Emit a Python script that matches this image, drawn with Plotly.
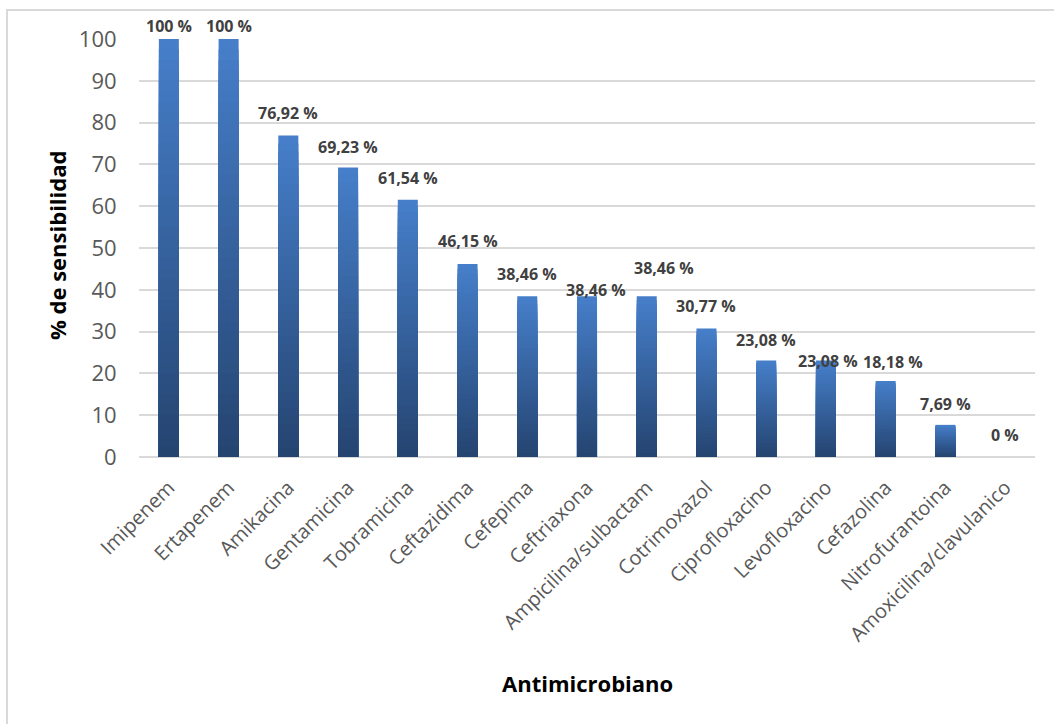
import plotly.graph_objects as go

# ---- data ----
categories = ["Imipenem", "Ertapenem", "Amikacina", "Gentamicina", "Tobramicina",
              "Ceftazidima", "Cefepima", "Ceftriaxona", "Ampicilina/sulbactam",
              "Cotrimoxazol", "Ciprofloxacino", "Levofloxacino", "Cefazolina",
              "Nitrofurantoina", "Amoxicilina/clavulanico"]
values = [100, 100, 76.92, 69.23, 61.54, 46.15, 38.46, 38.46, 38.46,
          30.77, 23.08, 23.08, 18.18, 7.69, 0]
y_ticks = [0, 10, 20, 30, 40, 50, 60, 70, 80, 90, 100]
x_title = "Antimicrobiano"
y_title = "% de sensibilidad"

# ---- label placement (pixel offsets, mimic the original layout) ----
label_dx = [0, 0, 0, 0, 0, 0, 0, 9, 17, 0, 0, 2, 7, 0, 0]
label_dy = [13, 13, 22, 21, 22, 23, 22, 6, 28, 22, 21, 0, 19, 21, 22]

W, H = 1054, 724
L, R, T, B = 139, 19, 39, 267
pw, ph = W - L - R, H - T - B

# gradient colours (bottom -> top)
c_bot = (37, 68, 112)
c_top = (70, 127, 202)
N = 40

fig = go.Figure()
# overlaid bars from full height (lightest) down to the shortest (darkest):
# each covers from 0, so no seams between gradient steps
for k in range(N):
    frac = (N - k) / N
    f = (N - k - 0.5) / N
    col = tuple(round(c_bot[i] + (c_top[i] - c_bot[i]) * f) for i in range(3))
    fig.add_trace(go.Bar(
        x=categories,
        y=[v * frac for v in values],
        marker=dict(color="rgb(%d,%d,%d)" % col, line=dict(width=0)),
        width=0.335,
        showlegend=False,
        hoverinfo="skip",
    ))

def fmt(v):
    s = ("%.2f" % v).rstrip("0").rstrip(".")
    return s.replace(".", ",") + " %"

annotations = []
for c, v, dx, dy in zip(categories, values, label_dx, label_dy):
    annotations.append(dict(
        x=c, y=v, xref="x", yref="y", text=fmt(v), showarrow=False,
        xshift=dx, yshift=dy, yanchor="middle", xanchor="center",
        font=dict(family="Open Sans", size=16, color="#404040", weight="bold"),
    ))

annotations.append(dict(
    x=0.5, y=(T + ph - 683) / ph, xref="paper", yref="paper", text=x_title,
    showarrow=False, xanchor="center", yanchor="middle",
    font=dict(family="Open Sans", size=22, color="#000000", weight="bold"),
))
annotations.append(dict(
    x=(57 - L) / pw, y=(T + ph - 246) / ph, xref="paper", yref="paper", text=y_title,
    showarrow=False, xanchor="center", yanchor="middle", textangle=-90,
    font=dict(family="Open Sans", size=22, color="#000000", weight="bold"),
))

fig.update_layout(
    width=W, height=H,
    margin=dict(l=L, r=R, t=T, b=B, autoexpand=False),
    paper_bgcolor="white", plot_bgcolor="white",
    barmode="overlay",
    bargap=0.665,
    annotations=annotations,
    shapes=[dict(
        type="rect", xref="paper", yref="paper",
        x0=(7 - L) / pw, x1=(W + 10 - L) / pw,
        y0=(T + ph - (H + 10)) / ph, y1=(T + ph - 10) / ph,
        line=dict(color="#d9d9d9", width=2), fillcolor="rgba(0,0,0,0)",
        layer="below",
    )],
)

fig.update_xaxes(
    tickangle=-45,
    tickfont=dict(family="Open Sans", size=20, color="#595959"),
    showgrid=False, showline=False, zeroline=False,
    ticks="outside", ticklen=10, tickcolor="rgba(0,0,0,0)",
    fixedrange=True,
)
fig.update_yaxes(
    range=[0, 100],
    tickvals=y_ticks,
    tickfont=dict(family="Open Sans", size=22, color="#595959"),
    showgrid=True, gridcolor="#d9d9d9", gridwidth=1.5,
    zeroline=True, zerolinecolor="#d9d9d9", zerolinewidth=1.5,
    showline=False,
    ticks="outside", ticklen=17, tickcolor="rgba(0,0,0,0)",
    fixedrange=True,
)

fig.write_html("out.html")
